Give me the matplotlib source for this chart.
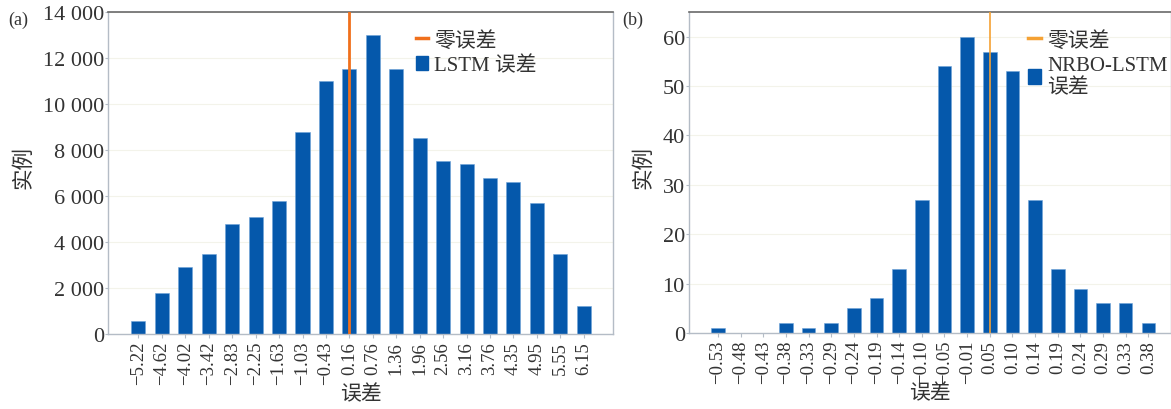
import matplotlib
matplotlib.use("Agg")
import matplotlib.pyplot as plt
from matplotlib.lines import Line2D
from matplotlib.patches import Patch
from matplotlib.ticker import FuncFormatter

plt.rcParams['font.family'] = ['Liberation Serif', 'Noto Sans CJK SC']
plt.rcParams['axes.unicode_minus'] = True

# LSTM error histogram
lstm_bins = ["−5.22", "−4.62", "−4.02", "−3.42", "−2.83", "−2.25", "−1.63",
             "−1.03", "−0.43", "0.16", "0.76", "1.36", "1.96", "2.56",
             "3.16", "3.76", "4.35", "4.95", "5.55", "6.15"]
lstm_counts = [550, 1800, 2900, 3500, 4800, 5100, 5800, 8800, 11000, 11500,
               13000, 11500, 8500, 7500, 7400, 6800, 6600, 5700, 3500, 1200]
lstm_zero_bin = "0.16"

# NRBO-LSTM error histogram
nrbo_bins = ["−0.53", "−0.48", "−0.43", "−0.38", "−0.33", "−0.29", "−0.24",
             "−0.19", "−0.14", "−0.10", "−0.05", "−0.01", "0.05", "0.10",
             "0.14", "0.19", "0.24", "0.29", "0.33", "0.38"]
nrbo_counts = [1, 0, 0, 2, 1, 2, 5, 7, 13, 27, 54, 60, 57, 53, 27, 13, 9, 6, 6, 2]
nrbo_zero_bin = "0.05"

BAR = "#0558ab"
TXT = "#333333"

fig = plt.figure(figsize=(11.71, 4.10), dpi=100)
W, H = 1171, 410
ax_a = fig.add_axes([108 / W, 1 - 335 / H, (613 - 108) / W, (335 - 13) / H])
ax_b = fig.add_axes([689 / W, 1 - 334 / H, (1171 - 689) / W, (334 - 13) / H])


def style(ax):
    for side in ("left", "bottom", "right"):
        ax.spines[side].set_color("#b4bcc6")
        ax.spines[side].set_linewidth(1.0)
    ax.spines["top"].set_color("#6a6a6a")
    ax.spines["top"].set_linewidth(1.2)
    ax.grid(axis="y", color="#f3f3ea", linewidth=0.8)
    ax.set_axisbelow(True)
    ax.tick_params(axis="y", length=2, width=0.8, color="#b4bcc6",
                   labelsize=16, labelcolor=TXT, pad=1)
    ax.tick_params(axis="x", length=3, width=0.8, color="#b4bcc6",
                   labelsize=13.5, labelcolor=TXT, pad=2, rotation=90)


def draw(ax, bins, counts, zero_bin, line_color, line_w, series_label, ymax,
         ystep, fmt, xlim, legend_x):
    x = list(range(len(bins)))
    ax.bar(x, counts, width=0.6, color=BAR, edgecolor="#6fa3d8", linewidth=0.4,
           zorder=2)
    ax.axvline(bins.index(zero_bin), color=line_color, linewidth=line_w, zorder=3)
    ax.set_xticks(x)
    ax.set_xticklabels(bins)
    ax.set_xlim(*xlim)
    ax.set_ylim(0, ymax)
    ax.set_yticks(range(0, int(ymax) + 1, ystep))
    ax.yaxis.set_major_formatter(FuncFormatter(fmt))
    style(ax)
    ax.set_xlabel("误差", fontsize=15, color=TXT, labelpad=0)
    ax.set_ylabel("实例", fontsize=15.5, color=TXT, labelpad=6)
    ax.yaxis.label.set_y(0.52)
    handles = [Line2D([0], [0], color=line_color, linewidth=2.5),
               Patch(facecolor=BAR, edgecolor=BAR)]
    ax.legend(handles, ["零误差", series_label], loc="upper left",
              bbox_to_anchor=(legend_x, 1.0), frameon=False, fontsize=15,
              handlelength=0.6, handleheight=0.7, handletextpad=0.3,
              labelspacing=0.25, labelcolor=TXT)


def thousands(v, _):
    return f"{int(v):,}".replace(",", " ")


draw(ax_a, lstm_bins, lstm_counts, lstm_zero_bin, "#f0701c", 2.0, "LSTM 误差",
     14000, 2000, thousands, (-1.3, 20.25), 0.572)
draw(ax_b, nrbo_bins, nrbo_counts, nrbo_zero_bin, "#f5a133", 1.2,
     "NRBO-LSTM\n误差", 65, 10, lambda v, _: f"{int(v)}", (-1.28, 20.0), 0.665)

ax_a.set_yticks(range(0, 14001, 2000))
ax_b.set_yticks(range(0, 61, 10))

fig.text(8 / W, 1 - 20 / H, "(a)", fontsize=13, color=TXT, va="center")
fig.text(622 / W, 1 - 20 / H, "(b)", fontsize=13, color=TXT, va="center")

fig.savefig("out.png", dpi=100)
